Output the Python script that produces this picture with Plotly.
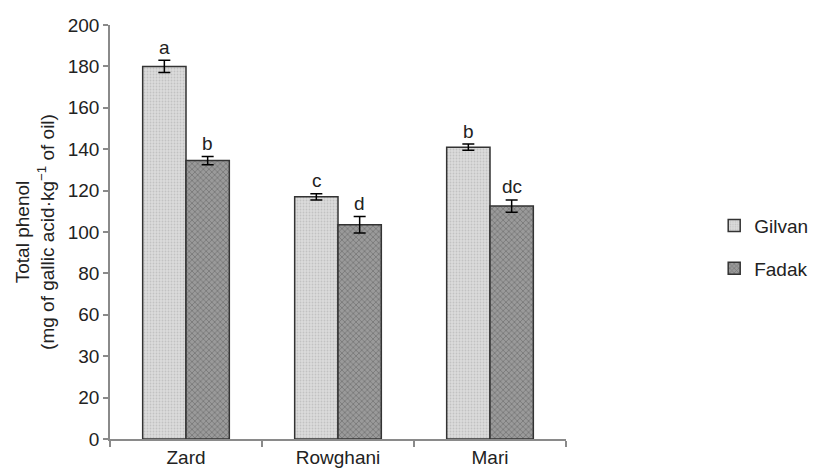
import plotly.graph_objects as go

categories = ["Zard", "Rowghani", "Mari"]
gilvan = [180, 117, 141]
gilvan_err = [3, 1.5, 1.5]
gilvan_letters = ["a", "c", "b"]
fadak = [134.5, 103.5, 112.5]
fadak_err = [2, 4, 3]
fadak_letters = ["b", "d", "dc"]
tick_vals = [0, 20, 40, 60, 80, 100, 120, 140, 160, 180, 200]
tick_text = ["0", "20", "30", "60", "80", "100", "120", "140", "160", "180", "200"]

font = "Liberation Sans, Arial, sans-serif"

fig = go.Figure()
fig.add_trace(go.Bar(
    name="Gilvan", x=categories, y=gilvan,
    error_y=dict(type="data", array=gilvan_err, color="black", thickness=1.5, width=6),
    marker=dict(color="#d9d9d9", line=dict(color="#333333", width=1.5),
                pattern=dict(shape=".", fgcolor="#a8a8a8", bgcolor="#dcdcdc", size=3, solidity=0.3)),
    legendgroup="g1",
))
fig.add_trace(go.Bar(
    name="Fadak", x=categories, y=fadak,
    error_y=dict(type="data", array=fadak_err, color="black", thickness=1.5, width=6),
    marker=dict(color="#707070", line=dict(color="#333333", width=1.5),
                pattern=dict(shape="x", fgcolor="#5a5a5a", bgcolor="#9a9a9a", size=4, solidity=0.4)),
    legendgroup="g2",
))

for i, c in enumerate(categories):
    fig.add_annotation(x=c, y=gilvan[i] + gilvan_err[i], text=gilvan_letters[i],
                       xshift=-21.5, yshift=13, showarrow=False,
                       font=dict(size=19, color="#222", family=font))
    fig.add_annotation(x=c, y=fadak[i] + fadak_err[i], text=fadak_letters[i],
                       xshift=21.5, yshift=13, showarrow=False,
                       font=dict(size=19, color="#222", family=font))

# page body has an 8px margin, so the figure is sized/offset to compensate
fig.update_layout(
    width=811, height=460,
    margin=dict(l=102, r=253, t=17, b=29, autoexpand=False),
    paper_bgcolor="white", plot_bgcolor="white",
    barmode="group", bargap=0.43, bargroupgap=0,
    font=dict(family=font, size=19, color="#222"),
    showlegend=True,
    legend=dict(x=1.325, y=0.561, xanchor="left", yanchor="top",
                font=dict(size=19, family=font, color="#222"),
                tracegroupgap=15, itemwidth=30),
    xaxis=dict(showline=True, linecolor="#8a8a8a", linewidth=1.5,
               ticks="outside", tickson="boundaries", tickcolor="#8a8a8a",
               ticklen=6, tickwidth=1.5, automargin=False,
               tickfont=dict(size=19, family=font, color="#222")),
    yaxis=dict(range=[0, 200], tickvals=tick_vals, ticktext=tick_text,
               showline=True, linecolor="#8a8a8a", linewidth=1.5,
               ticks="outside", tickcolor="#8a8a8a", ticklen=5, tickwidth=1.5,
               showgrid=False, zeroline=False, automargin=False,
               tickfont=dict(size=19, family=font, color="#222"),
               title=dict(text="Total phenol<br>(mg of gallic acid·kg<sup>−1</sup> of oil)",
                          font=dict(size=19, family=font, color="#222"), standoff=8)),
)

fig.write_html("out.html")
